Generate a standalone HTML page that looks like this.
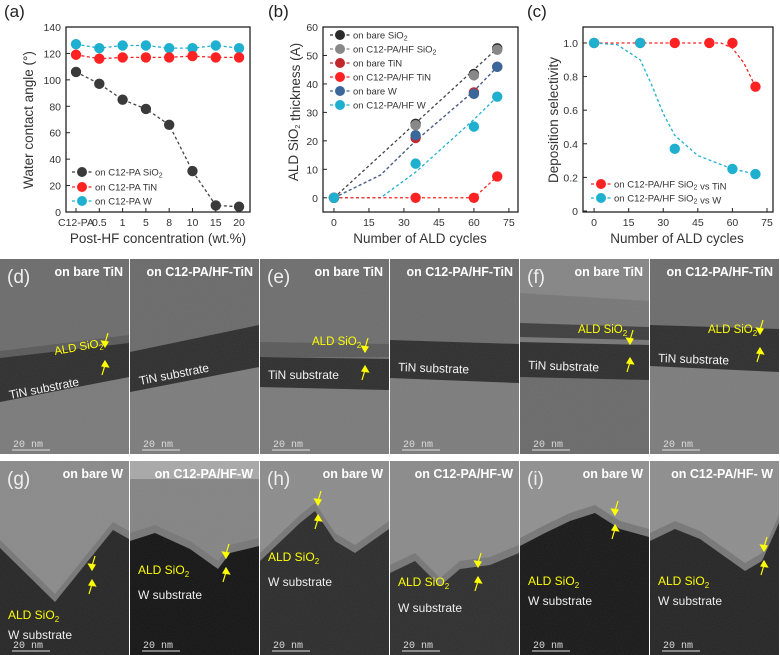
<!DOCTYPE html>
<html><head><meta charset="utf-8"><style>
html,body{margin:0;padding:0;background:#fff;}
svg{display:block;font-family:"Liberation Sans",Arial,sans-serif;}
</style></head><body>
<svg id="fig" width="780" height="655" viewBox="0 0 780 655" xmlns="http://www.w3.org/2000/svg">
<defs>
<filter id="noise" x="0" y="0" width="100%" height="100%">
<feTurbulence type="fractalNoise" baseFrequency="0.9" numOctaves="1" seed="3" result="t"/>
<feColorMatrix type="matrix" values="0 0 0 0 0.5  0 0 0 0 0.5  0 0 0 0 0.5  0 0 0 0.18 0"/>
<feComposite in2="SourceGraphic" operator="in"/>
</filter>
</defs>
<g id="charts"></g>
<g id="tem"></g>
</svg>
<script>
// ---------- chart (a) data ----------
const aCategories = ["C12-PA","0.5","1","5","8","10","15","20"];
const aSiO2 = [106,97,85,78,66,31,5,4];
const aTiN = [119,116,117,117,117,118,117,117];
const aW = [127,124,126,126,124,124,126,124];
const aYTicks = [0,20,40,60,80,100,120,140];
// ---------- chart (b) data ----------
const bCycles = [0,35,60,70];
const bBareSiO2 = [0,26,43.5,52.5];
const bC12SiO2 = [0,25.5,43,52];
const bBareTiN = [0,21,37,46];
const bC12TiN = [0,0,0,7.5];
const bBareW = [0,22,36.5,46];
const bC12W = [0,12,25,35.5];
const bFitSiO2X = [0,70], bFitSiO2Y = [0,52.5];
const bFitTiNX = [0,20,35,60,70], bFitTiNY = [0,8,20,37.5,46];
const bFitWX = [0,20,35,60,70], bFitWY = [0,0,9,27.5,35.5];
const bFitC12TiNX = [0,60,70], bFitC12TiNY = [0,0,7.5];
const bXTicks = [0,15,30,45,60,75];
const bYTicks = [0,10,20,30,40,50,60];
// ---------- chart (c) data ----------
const cTiNX = [0,20,35,50,60,70];
const cTiNY = [1,1,1,1,1,0.74];
const cWX = [0,20,35,60,70];
const cWY = [1,1,0.37,0.25,0.22];
const cFitTiNX = [0,55,60,65,70], cFitTiNY = [1,1,0.97,0.88,0.74];
const cFitWX = [0,10,20,25,30,35,45,60,70], cFitWY = [1,0.99,0.9,0.75,0.58,0.45,0.33,0.25,0.22];
const cXTicks = [0,15,30,45,60,75];
const cYTicks = [0,0.2,0.4,0.6,0.8,1.0];

const NS = "http://www.w3.org/2000/svg";
const charts = document.getElementById('charts');
function mk(parent, tag, attrs, text){
  const e = document.createElementNS(NS, tag);
  for (const k in attrs) e.setAttribute(k, attrs[k]);
  if (text !== undefined) e.textContent = text;
  parent.appendChild(e);
  return e;
}
function scale(d0,d1,r0,r1){ return v => r0 + (v-d0)/(d1-d0)*(r1-r0); }

function frame(g, L, T, R, B){
  const f = mk(g,'rect',{x:L,y:T,width:R-L,height:B-T,fill:'none',stroke:'#222','stroke-width':1.3});
  
  
}
function yAxis(g, ticks, sy, L, fmt){
  ticks.forEach(t=>{
    const tk = mk(g,'line',{x1:L,x2:L+4,y1:sy(t),y2:sy(t),stroke:'#222'});
    
    
    const lb = mk(g,'text',{x:L-5,y:sy(t)+4,'font-size':10.5,'text-anchor':'end',fill:'#333'}, fmt(t));
    
    
  });
}
function xAxis(g, ticks, sx, B, labels){
  ticks.forEach((t,i)=>{
    const tk = mk(g,'line',{x1:sx(t),x2:sx(t),y1:B,y2:B-4,stroke:'#222'});
    
    
    const lb = mk(g,'text',{x:sx(t),y:B+14,'font-size':10.5,'text-anchor':'middle',fill:'#333'}, labels ? labels[i] : String(t));
    
    
  });
}
function line(g, xs, ys, sx, sy, color, name){
  const pts = xs.map((x,i)=>sx(x)+','+sy(ys[i])).join(' ');
  const p = mk(g,'polyline',{points:pts,fill:'none',stroke:color,'stroke-width':1.3,'stroke-dasharray':'3,2.5'});
  
  
}
function points(g, xs, ys, sx, sy, color, name){
  xs.forEach((x,i)=>{
    const c = mk(g,'circle',{cx:sx(x),cy:sy(ys[i]),r:5.2,fill:color});
    
    
  });
}
function legend(g, x, y, color, label){
  const l = mk(g,'line',{x1:x-10,x2:x+10,y1:y,y2:y,stroke:color,'stroke-width':1.3,'stroke-dasharray':'3,2.5'});
  
  
  const c = mk(g,'circle',{cx:x,cy:y,r:5,fill:color});
  
  
  const t = mk(g,'text',{x:x+13,y:y+3.5,'font-size':9.5,fill:'#333'});
  t.innerHTML = label;
  
  
}
function titles(g, letter, lx, xt, xtx, yt, ytx, ytY){
  const p = mk(g,'text',{x:lx,y:17,'font-size':17,fill:'#222'}, letter);
  
  
  const xa = mk(g,'text',{x:xtx,y:243,'font-size':13.5,'text-anchor':'middle',fill:'#333'}, xt);
  
  
  const ya = mk(g,'text',{x:0,y:0,'font-size':13.5,'text-anchor':'middle',fill:'#333',transform:`translate(${ytx},${ytY}) rotate(-90)`});
  ya.innerHTML = yt;
  
  
}
const sub = s => `<tspan font-size="7" dy="2">${s}</tspan><tspan dy="-2"></tspan>`;

// ---- chart a ----
(function(){
  const g = mk(charts,'g',{});
  
  
  const L=66,R=250,T=27,B=212;
  const sx = scale(-0.43,7.47,L,R), sy = scale(0,140,B,T);
  frame(g,L,T,R,B);
  yAxis(g,aYTicks,sy,L,t=>String(t));
  xAxis(g,aCategories.map((c,i)=>i),sx,B,aCategories);
  const idx = aCategories.map((c,i)=>i);
  line(g,idx,aW,sx,sy,'#1fb0d0','line-w');
  line(g,idx,aTiN,sx,sy,'#f22','line-tin');
  line(g,idx,aSiO2,sx,sy,'#444','line-sio2');
  points(g,idx,aW,sx,sy,'#1fb0d0','point-w');
  points(g,idx,aTiN,sx,sy,'#f22','point-tin');
  points(g,idx,aSiO2,sx,sy,'#3a3a3a','point-sio2');
  legend(g,82,172,'#3a3a3a','on C12-PA SiO'+sub('2'));
  legend(g,82,187,'#f22','on C12-PA TiN');
  legend(g,82,201,'#1fb0d0','on C12-PA W');
  titles(g,'(a)',4,'Post-HF concentration (wt.%)',158,'Water contact angle (°)',33,120);
})();

// ---- chart b ----
(function(){
  const g = mk(charts,'g',{});
  
  
  const L=323,R=518,T=27,B=212;
  const sx = scale(-4.7,78.9,L,R), sy = scale(-5,60,B,T);
  frame(g,L,T,R,B);
  yAxis(g,bYTicks,sy,L,t=>String(t));
  xAxis(g,bXTicks,sx,B);
  line(g,bFitSiO2X,bFitSiO2Y,sx,sy,'#444','fit-sio2');
  line(g,bFitTiNX,bFitTiNY,sx,sy,'#c0282d','fit-bare-tin');
  line(g,bFitTiNX,bFitTiNY.map(v=>v),sx,sy,'#3d6a9a','fit-bare-w');
  line(g,bFitWX,bFitWY,sx,sy,'#1fb0d0','fit-c12-w');
  line(g,bFitC12TiNX,bFitC12TiNY,sx,sy,'#f22','fit-c12-tin');
  points(g,bCycles,bBareSiO2,sx,sy,'#2a2a2a','point-bare-sio2');
  points(g,bCycles,bC12SiO2,sx,sy,'#888','point-c12-sio2');
  points(g,bCycles,bBareTiN,sx,sy,'#c0282d','point-bare-tin');
  points(g,bCycles,bC12TiN,sx,sy,'#f22','point-c12-tin');
  points(g,bCycles,bBareW,sx,sy,'#3a689a','point-bare-w');
  points(g,bCycles,bC12W,sx,sy,'#1fb0d0','point-c12-w');
  legend(g,340,35,'#2a2a2a','on bare SiO'+sub('2'));
  legend(g,340,49,'#888','on C12-PA/HF SiO'+sub('2'));
  legend(g,340,63,'#c0282d','on bare TiN');
  legend(g,340,77,'#f22','on C12-PA/HF TiN');
  legend(g,340,91,'#3a689a','on bare W');
  legend(g,340,105,'#1fb0d0','on C12-PA/HF W');
  titles(g,'(b)',268,'Number of ALD cycles',420,'ALD SiO'+sub('2')+' thickness (A)',298,112);
})();

// ---- chart c ----
(function(){
  const g = mk(charts,'g',{});
  
  
  const L=583,R=773,T=27,B=212;
  const sx = scale(-4.8,77.6,L,R), sy = scale(-0.006,1.095,B,T);
  frame(g,L,T,R,B);
  yAxis(g,cYTicks,sy,L,t=>t===0?'0':t.toFixed(1));
  xAxis(g,cXTicks,sx,B);
  line(g,cFitTiNX,cFitTiNY,sx,sy,'#f22','fit-tin');
  line(g,cFitWX,cFitWY,sx,sy,'#1fb0d0','fit-w');
  points(g,cTiNX,cTiNY,sx,sy,'#f22','point-tin');
  points(g,cWX,cWY,sx,sy,'#1fb0d0','point-w');
  legend(g,601,184,'#f22','on C12-PA/HF SiO'+sub('2')+' vs TiN');
  legend(g,601,198,'#1fb0d0','on C12-PA/HF SiO'+sub('2')+' vs W');
  titles(g,'(c)',527,'Number of ALD cycles',677,'Deposition selectivity',558,120);
})();

// ---------- TEM panels ----------
const tem = document.getElementById('tem');
const W = 129;
const row1 = [
 {x:0,letter:'(d)',title:'on bare TiN',bg:'#6c6c6c',below:'#7a7a7a',band:[[0,99],[129,84],[129,118],[0,143]],sio:[[0,92],[129,76],[129,84],[0,99]],lab:'TiN substrate',lx:10,ly:140,rot:-11,ald:[55,96,-10],arrow:[105,108]},
 {x:130,letter:'',title:'on C12-PA/HF-TiN',bg:'#6a6a6a',below:'#7c7c7c',band:[[0,93],[129,66],[129,108],[0,133]],sio:null,lab:'TiN substrate',lx:10,ly:126,rot:-11},
 {x:260,letter:'(e)',title:'on bare TiN',bg:'#6e6e6e',below:'#7a7a7a',band:[[0,98],[129,100],[129,131],[0,128]],sio:[[0,83],[129,85],[129,98],[0,98]],lab:'TiN substrate',lx:8,ly:120,rot:0,ald:[52,86,0],arrow:[105,113]},
 {x:390,letter:'',title:'on C12-PA/HF-TiN',bg:'#6c6c6c',below:'#7c7c7c',band:[[0,81],[129,85],[129,124],[0,119]],sio:null,lab:'TiN substrate',lx:8,ly:112,rot:2},
 {x:520,letter:'(f)',title:'on bare TiN',bg:'#777',below:'#6a6a6a',band:[[0,83],[129,86],[129,121],[0,118]],sio:[[0,64],[129,68],[129,81],[0,78]],lab:'TiN substrate',lx:8,ly:110,rot:2,ald:[58,74,0],arrow:[110,105],top:[[0,0],[129,0],[129,42],[0,34]]},
 {x:650,letter:'',title:'on C12-PA/HF-TiN',bg:'#6c6c6c',below:'#7c7c7c',band:[[0,66],[129,70],[129,113],[0,107]],sio:null,lab:'TiN substrate',lx:8,ly:103,rot:2,ald:[58,74,0],arrow:[110,95]}
];
const row2 = [
 {x:0,letter:'(g)',title:'on bare W',bg:'#8a8a8a',dark:'#262626',b:[[0,87],[55,141],[113,69],[129,78]],ald:[8,158],ws:[8,178],ar:[92,115]},
 {x:130,letter:'',title:'on C12-PA/HF-W',bg:'#848484',dark:'#141414',b:[[0,80],[25,72],[60,88],[88,108],[100,92],[129,85]],ald:[8,113],ws:[8,138],ar:[96,103],top:18},
 {x:260,letter:'(h)',title:'on bare W',bg:'#8c8c8c',dark:'#2c2c2c',b:[[0,100],[40,62],[55,50],[75,80],[95,92],[129,68]],ald:[8,100],ws:[8,125],ar:[58,50]},
 {x:390,letter:'',title:'on C12-PA/HF-W',bg:'#8a8a8a',dark:'#2e2e2e',b:[[0,112],[25,100],[50,125],[70,108],[100,104],[129,92]],ald:[8,125],ws:[8,151],ar:[88,112]},
 {x:520,letter:'(i)',title:'on bare W',bg:'#909090',dark:'#181818',b:[[0,85],[25,72],[50,60],[75,52],[100,68],[129,76]],ald:[8,124],ws:[8,144],ar:[95,60]},
 {x:650,letter:'',title:'on C12-PA/HF- W',bg:'#8e8e8e',dark:'#252525',b:[[0,80],[25,68],[50,78],[95,110],[112,100],[129,62]],ald:[8,124],ws:[8,144],ar:[114,96]}
];
function poly(pts){ return pts.map(p=>p.join(',')).join(' '); }
function arrowPair(g, x, y, gap){
  const a1 = mk(g,'path',{d:`M${x+3},${y-14} L${x},${y-4} M${x-3.5},${y-6} L${x},${y} L${x+3},${y-5} Z`,stroke:'#ff0',fill:'#ff0','stroke-width':1.2});
  
  
  const a2 = mk(g,'path',{d:`M${x-3},${y+gap+14} L${x},${y+gap+4} M${x-3},${y+gap+5} L${x},${y+gap} L${x+3.5},${y+gap+6} Z`,stroke:'#ff0',fill:'#ff0','stroke-width':1.2});
  
  
}
function common(g, d, h){
  if (d.letter){
    const l = mk(g,'text',{x:7,y:24,'font-size':19,fill:'#eee'}, d.letter);
    
    
  }
  const t = mk(g,'text',{x:123,y:17,'font-size':12.5,'font-weight':'bold','text-anchor':'end',fill:'#fff'}, d.title);
  
  
  const sb = mk(g,'line',{x1:12,x2:50,y1:h-4,y2:h-4,stroke:'#ddd','stroke-width':1});
  
  
  const st = mk(g,'text',{x:13,y:h-7,'font-size':10,fill:'#ddd','font-family':'Liberation Mono, monospace'}, '20 nm');
  
  
}
row1.forEach(d=>{
  const h=195;
  const g = mk(tem,'g',{transform:`translate(${d.x},259)`});
  
  
  mk(g,'rect',{x:0,y:0,width:W,height:h,fill:d.bg});
  if (d.top) mk(g,'polygon',{points:poly(d.top),fill:'#858585'});
  const lo = [d.band[3],d.band[2],[W,h],[0,h]];
  mk(g,'polygon',{points:poly(lo),fill:d.below});
  if (d.sio) mk(g,'polygon',{points:poly(d.sio),fill:d.x===520?'#3e3e3e':'#5a5a5a'});
  const b = mk(g,'polygon',{points:poly(d.band),fill:'#2e2e2e'});
  
  
  mk(g,'rect',{x:0,y:0,width:W,height:h,fill:'#fff',filter:'url(#noise)',opacity:0.6});
  const lb = mk(g,'text',{x:d.lx,y:d.ly,'font-size':12,fill:'#f2f2f2',transform:`rotate(${d.rot} ${d.lx} ${d.ly})`}, d.lab);
  
  
  if (d.ald){
    const a = mk(g,'text',{x:d.ald[0],y:d.ald[1],'font-size':11.5,fill:'#ff0',transform:`rotate(${d.ald[2]} ${d.ald[0]} ${d.ald[1]})`});
    a.innerHTML = 'ALD SiO<tspan font-size="8" dy="3">2</tspan>';
    
    
    arrowPair(g,d.arrow[0],d.arrow[1]-20,14);
  }
  common(g,d,h);
});
row2.forEach(d=>{
  const h=194;
  const g = mk(tem,'g',{transform:`translate(${d.x},461)`});
  
  
  mk(g,'rect',{x:0,y:0,width:W,height:h,fill:d.bg});
  if (d.top) mk(g,'rect',{x:0,y:0,width:W,height:d.top,fill:'#a8a8a8'});
  const halo = d.b.map(p=>[p[0],p[1]-8]);
  mk(g,'polygon',{points:poly(halo.concat([[W,h],[0,h]])),fill:'#777'});
  const s = mk(g,'polygon',{points:poly(d.b.concat([[W,h],[0,h]])),fill:d.dark});
  
  
  mk(g,'rect',{x:0,y:0,width:W,height:h,fill:'#fff',filter:'url(#noise)',opacity:0.6});
  const a = mk(g,'text',{x:d.ald[0],y:d.ald[1],'font-size':12,fill:'#ff0'});
  a.innerHTML = 'ALD SiO<tspan font-size="8" dy="3">2</tspan>';
  
  
  const w = mk(g,'text',{x:d.ws[0],y:d.ws[1],'font-size':12,fill:'#eee'}, 'W substrate');
  
  
  arrowPair(g,d.ar[0],d.ar[1]-6,10);
  common(g,d,h);
});
</script>
</body></html>
